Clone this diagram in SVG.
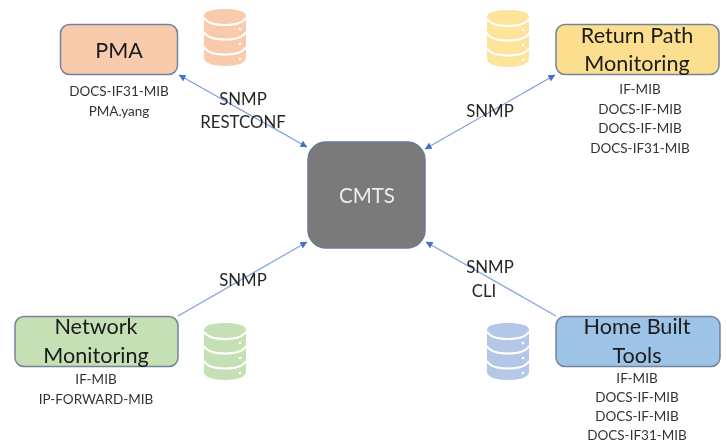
<svg xmlns="http://www.w3.org/2000/svg" width="727" height="443" viewBox="0 0 727 443">
<style>
text{font-family:"Lato","Open Sans","Liberation Sans",sans-serif;text-anchor:middle;fill:#1a1a1a}
.t{font-size:21.6px}
.m{font-size:13.5px;fill:#333}
.l{font-size:16.8px;fill:#262626}
.b{stroke:#76839a;stroke-width:1.5}
.c{stroke:#7fa0dc;stroke-width:1.2;fill:none}
.band{fill:none;stroke:#fff;stroke-width:2}
</style>
<defs>
<filter id="soft" x="-5%" y="-5%" width="110%" height="110%"><feGaussianBlur stdDeviation="0.45"/></filter>
<marker id="a" viewBox="0 0 10 10" refX="9.5" refY="5" markerWidth="7" markerHeight="7" markerUnits="userSpaceOnUse" orient="auto-start-reverse"><path d="M0 0L10 5L0 10z" fill="#4472c4"/></marker>
<g id="cyl">
<path d="M0 7C0 2 9 0 21 0S42 2 42 7V49C42 54 33 57 21 57S0 54 0 49z"/>
<path class="band" d="M0 8.500C3 14 12 16 21 16S39 14 42 8.500"/>
<path class="band" d="M0 23C3 28.500 12 30.500 21 30.500S39 28.500 42 23"/>
<path class="band" d="M0 38C3 43.500 12 45.500 21 45.500S39 43.500 42 38"/>
<circle cx="36" cy="20" r="1.300" fill="#fff"/><circle cx="36" cy="35" r="1.300" fill="#fff"/><circle cx="36" cy="50" r="1.300" fill="#fff"/>
</g>
</defs>
<rect width="727" height="443" fill="#fff"/>
<g filter="url(#soft)">
<g id="connectors">
<line class="c" x1="179" y1="75" x2="307" y2="147" marker-start="url(#a)" marker-end="url(#a)"/>
<line class="c" x1="425" y1="149" x2="555" y2="75" marker-start="url(#a)" marker-end="url(#a)"/>
<line class="c" x1="178" y1="316" x2="307" y2="242" marker-end="url(#a)"/>
<line class="c" x1="556" y1="316" x2="426" y2="242" marker-end="url(#a)"/>
</g>
<g id="pma">
<rect class="b" x="60.500" y="24.500" width="117" height="50" rx="9" fill="#f7cbac"/>
<text class="t" x="119" y="57.500">PMA</text>
<text class="m" x="119" y="96">DOCS-IF31-MIB</text>
<text class="m" x="119" y="116">PMA.yang</text>
</g>
<g id="pma-db" fill="#f7cbac"><use href="#cyl" x="204" y="9"/></g>
<g id="return-path">
<rect class="b" x="556" y="24.500" width="163" height="50" rx="9" fill="#fbdf8f"/>
<text class="t" x="637" y="43">Return Path</text>
<text class="t" x="637" y="71">Monitoring</text>
<text class="m" x="640" y="94">IF-MIB</text>
<text class="m" x="640" y="114">DOCS-IF-MIB</text>
<text class="m" x="640" y="133">DOCS-IF-MIB</text>
<text class="m" x="640" y="153">DOCS-IF31-MIB</text>
</g>
<g id="return-db" fill="#fee39b"><use href="#cyl" x="487" y="10"/></g>
<g id="cmts">
<rect x="308" y="142" width="117" height="106" rx="18" fill="#7a7a7a" stroke="#6b7a94" stroke-width="1.5"/>
<text x="367" y="203" style="font-size:20.500px;fill:#ececec">CMTS</text>
</g>
<g id="network">
<rect class="b" x="15" y="316.500" width="163" height="50" rx="9" fill="#c5e0b4"/>
<text class="t" x="96" y="334">Network</text>
<text class="t" x="96" y="363">Monitoring</text>
<text class="m" x="96" y="384">IF-MIB</text>
<text class="m" x="96" y="404">IP-FORWARD-MIB</text>
</g>
<g id="network-db" fill="#c5e0b4"><use href="#cyl" x="204" y="323"/></g>
<g id="home">
<rect class="b" x="556" y="316.500" width="164" height="50" rx="9" fill="#9dc3e6"/>
<text class="t" x="637" y="334">Home Built</text>
<text class="t" x="637" y="363">Tools</text>
<text class="m" x="637" y="383">IF-MIB</text>
<text class="m" x="637" y="402">DOCS-IF-MIB</text>
<text class="m" x="637" y="421">DOCS-IF-MIB</text>
<text class="m" x="637" y="440">DOCS-IF31-MIB</text>
</g>
<g id="home-db" fill="#b4c7e7"><use href="#cyl" x="487" y="323"/></g>
<g id="labels">
<text class="l" x="243" y="105">SNMP</text>
<text class="l" x="243" y="128">RESTCONF</text>
<text class="l" x="490" y="117">SNMP</text>
<text class="l" x="243" y="286">SNMP</text>
<text class="l" x="490" y="273">SNMP</text>
<text class="l" x="484" y="297">CLI</text>
</g>
</g>
</svg>
